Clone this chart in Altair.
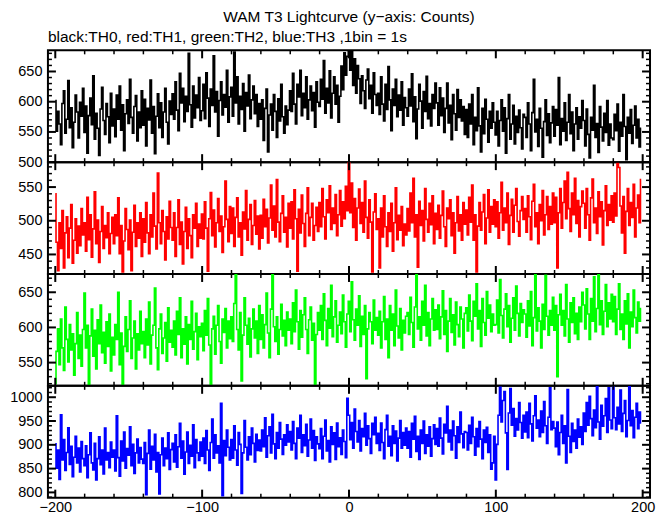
import altair as alt
import pandas as pd

# time bins (1 s)
time = list(range(-200, 200))

# TH0 (black) counts, one row per 20 s
th0_rows = [
    [602, 551, 584, 563, 529, 597, 618, 548, 571, 635, 557, 590, 524, 566, 611, 583, 540, 599, 576, 622],
    [549, 593, 515, 577, 606, 562, 643, 538, 581, 556, 511, 588, 624, 569, 546, 597, 575, 532, 614, 560],
    [588, 542, 611, 571, 626, 553, 595, 519, 580, 603, 564, 637, 574, 548, 592, 610, 535, 583, 557, 618],
    [561, 604, 527, 589, 570, 636, 548, 592, 514, 576, 613, 557, 598, 541, 583, 622, 566, 530, 601, 579],
    [613, 571, 633, 586, 552, 647, 598, 622, 567, 609, 584, 680, 595, 558, 626, 573, 611, 590, 640, 569],
    [585, 629, 572, 648, 606, 559, 621, 594, 676, 583, 617, 543, 602, 633, 578, 612, 591, 652, 566, 608],
    [624, 576, 682, 598, 641, 563, 609, 587, 630, 551, 615, 593, 644, 572, 603, 626, 580, 612, 559, 597],
    [571, 603, 536, 589, 621, 517, 578, 596, 553, 612, 584, 541, 605, 568, 629, 575, 548, 593, 562, 586],
    [618, 584, 647, 596, 563, 629, 608, 652, 577, 614, 590, 641, 571, 603, 626, 585, 615, 558, 633, 599],
    [592, 637, 604, 668, 581, 622, 598, 651, 573, 614, 641, 596, 627, 566, 609, 659, 620, 681, 644, 675],
    [685, 652, 683, 627, 671, 614, 660, 638, 597, 643, 618, 589, 636, 654, 605, 627, 581, 648, 612, 594],
    [614, 579, 641, 596, 568, 629, 587, 658, 603, 552, 621, 594, 637, 575, 611, 586, 633, 561, 607, 590],
    [576, 621, 593, 646, 567, 608, 539, 588, 629, 601, 556, 617, 584, 642, 572, 597, 560, 612, 589, 631],
    [598, 561, 623, 577, 606, 549, 589, 631, 565, 594, 537, 612, 580, 553, 620, 574, 603, 568, 592, 546],
    [587, 541, 596, 563, 612, 529, 574, 552, 623, 560, 517, 589, 547, 604, 571, 533, 584, 556, 598, 566],
    [545, 584, 527, 569, 603, 551, 590, 515, 572, 612, 538, 563, 594, 530, 576, 549, 586, 557, 522, 579],
    [574, 541, 598, 563, 519, 582, 637, 550, 571, 526, 589, 556, 508, 567, 603, 544, 580, 532, 565, 592],
    [543, 587, 561, 640, 529, 572, 551, 598, 536, 566, 612, 547, 583, 519, 563, 590, 538, 575, 556, 602],
    [569, 527, 588, 546, 507, 574, 553, 627, 541, 564, 516, 592, 558, 535, 581, 549, 602, 528, 563, 540],
    [537, 579, 552, 596, 518, 566, 543, 612, 559, 504, 574, 548, 587, 531, 561, 593, 540, 571, 525, 556],
]

# TH1 (red)
th1_rows = [
    [540, 468, 426, 497, 459, 515, 430, 482, 506, 445, 489, 524, 437, 471, 503, 452, 492, 463, 518, 479],
    [497, 455, 535, 472, 509, 446, 488, 543, 466, 501, 438, 484, 521, 459, 493, 475, 512, 451, 481, 505],
    [466, 509, 478, 534, 451, 493, 424, 470, 518, 487, 457, 501, 426, 483, 523, 462, 497, 474, 512, 447],
    [503, 468, 527, 482, 451, 509, 476, 541, 492, 458, 571, 497, 466, 515, 484, 442, 506, 473, 529, 490],
    [471, 512, 447, 490, 531, 465, 498, 436, 484, 520, 459, 503, 478, 445, 509, 489, 526, 462, 495, 474],
    [510, 473, 528, 489, 425, 503, 542, 478, 516, 461, 497, 533, 484, 507, 453, 491, 559, 502, 469, 521],
    [481, 519, 462, 505, 534, 476, 497, 449, 513, 488, 545, 471, 502, 524, 465, 493, 530, 480, 507, 458],
    [508, 474, 532, 491, 517, 467, 504, 553, 486, 522, 476, 561, 498, 469, 511, 537, 483, 505, 461, 526],
    [489, 528, 473, 546, 503, 425, 517, 482, 538, 496, 462, 511, 549, 478, 505, 526, 471, 493, 520, 484],
    [527, 491, 548, 506, 473, 531, 512, 552, 487, 519, 496, 539, 478, 509, 545, 492, 528, 503, 551, 515],
    [588, 512, 556, 490, 533, 471, 519, 547, 496, 527, 483, 559, 505, 474, 531, 498, 424, 513, 540, 487],
    [503, 430, 519, 476, 537, 491, 462, 512, 484, 526, 455, 497, 549, 472, 508, 486, 521, 463, 495, 479],
    [518, 485, 541, 497, 563, 476, 509, 431, 529, 493, 515, 470, 548, 502, 483, 526, 494, 537, 466, 511],
    [487, 523, 474, 508, 544, 491, 462, 519, 503, 531, 478, 512, 452, 497, 536, 485, 509, 471, 527, 495],
    [516, 479, 535, 498, 553, 471, 509, 424, 492, 527, 486, 513, 539, 466, 504, 546, 483, 521, 495, 531],
    [491, 528, 474, 512, 557, 486, 519, 497, 541, 465, 508, 532, 483, 523, 548, 499, 477, 515, 536, 502],
    [518, 483, 537, 506, 472, 529, 554, 491, 512, 466, 524, 500, 545, 479, 509, 536, 487, 521, 495, 541],
    [497, 535, 430, 512, 548, 489, 527, 559, 503, 572, 518, 484, 541, 509, 563, 496, 530, 476, 521, 544],
    [526, 489, 548, 509, 471, 534, 562, 497, 519, 481, 543, 506, 528, 464, 515, 552, 493, 524, 501, 537],
    [498, 541, 507, 585, 579, 522, 482, 536, 452, 514, 548, 493, 527, 505, 554, 476, 519, 538, 497, 561],
]

# TH2 (green)
th2_rows = [
    [520, 566, 598, 547, 612, 571, 539, 629, 583, 551, 604, 568, 591, 532, 577, 621, 556, 589, 545, 597],
    [649, 571, 603, 518, 588, 626, 559, 596, 541, 611, 577, 632, 564, 593, 549, 608, 573, 619, 538, 586],
    [561, 604, 583, 650, 547, 592, 518, 573, 615, 566, 597, 638, 556, 585, 609, 541, 591, 568, 623, 577],
    [594, 557, 612, 575, 636, 548, 589, 603, 656, 571, 540, 598, 619, 563, 585, 607, 552, 628, 579, 596],
    [572, 609, 561, 623, 590, 642, 557, 598, 576, 615, 548, 604, 583, 637, 569, 594, 620, 554, 601, 587],
    [606, 567, 624, 589, 641, 575, 518, 598, 616, 562, 603, 631, 580, 549, 612, 593, 627, 571, 609, 584],
    [615, 580, 634, 676, 597, 568, 621, 524, 589, 642, 603, 576, 613, 558, 598, 626, 585, 609, 563, 631],
    [583, 618, 571, 604, 649, 592, 557, 626, 676, 601, 580, 615, 562, 597, 633, 588, 610, 574, 622, 596],
    [612, 577, 635, 594, 653, 608, 569, 624, 586, 618, 642, 597, 563, 611, 629, 582, 606, 518, 590, 621],
    [596, 631, 583, 648, 610, 574, 627, 599, 660, 587, 615, 638, 579, 603, 622, 591, 646, 608, 572, 619],
    [637, 594, 665, 611, 582, 626, 603, 645, 573, 616, 590, 631, 527, 598, 621, 608, 577, 639, 596, 614],
    [589, 623, 571, 608, 644, 583, 612, 557, 631, 596, 619, 574, 653, 602, 585, 627, 568, 610, 592, 616],
    [621, 590, 643, 607, 572, 629, 676, 598, 615, 582, 637, 603, 660, 588, 621, 574, 612, 641, 596, 625],
    [597, 632, 584, 615, 652, 590, 624, 566, 609, 641, 593, 618, 575, 636, 604, 587, 629, 612, 571, 620],
    [628, 595, 646, 609, 581, 637, 616, 662, 598, 624, 573, 641, 607, 589, 651, 613, 632, 594, 619, 603],
    [604, 639, 592, 668, 617, 585, 626, 648, 601, 631, 579, 613, 642, 596, 659, 620, 588, 634, 607, 625],
    [619, 586, 638, 602, 651, 574, 614, 676, 595, 628, 609, 571, 633, 597, 674, 616, 589, 624, 603, 643],
    [596, 631, 530, 618, 647, 603, 624, 588, 661, 612, 579, 635, 607, 642, 591, 620, 583, 629, 608, 650],
    [632, 598, 655, 619, 583, 641, 609, 672, 594, 627, 676, 604, 638, 590, 623, 661, 601, 635, 612, 647],
    [608, 644, 590, 626, 662, 597, 619, 583, 638, 605, 648, 571, 622, 601, 653, 614, 592, 636, 609, 627],
]

# TH3 (blue)
th3_rows = [
    [902, 851, 889, 827, 963, 868, 911, 846, 884, 936, 859, 897, 833, 874, 918, 862, 893, 843, 907, 871],
    [856, 898, 831, 879, 925, 862, 847, 903, 826, 871, 917, 858, 889, 839, 935, 868, 884, 852, 906, 874],
    [889, 845, 961, 873, 834, 908, 866, 927, 851, 892, 878, 938, 856, 901, 840, 883, 912, 862, 894, 870],
    [861, 905, 795, 882, 931, 849, 897, 868, 922, 843, 884, 797, 879, 914, 856, 893, 871, 925, 848, 890],
    [903, 864, 921, 853, 896, 945, 872, 908, 838, 885, 927, 861, 899, 876, 942, 852, 911, 883, 867, 906],
    [876, 914, 861, 930, 889, 846, 905, 954, 872, 921, 883, 898, 862, 987, 793, 909, 877, 931, 895, 868],
    [911, 872, 940, 889, 857, 926, 901, 798, 883, 951, 895, 868, 917, 879, 935, 903, 864, 922, 888, 910],
    [887, 931, 896, 957, 874, 919, 938, 883, 964, 902, 871, 926, 893, 947, 912, 880, 921, 899, 942, 906],
    [928, 889, 949, 903, 871, 935, 914, 962, 884, 921, 898, 943, 876, 910, 954, 893, 930, 867, 917, 902],
    [892, 934, 871, 918, 952, 887, 909, 864, 938, 901, 925, 869, 946, 896, 915, 880, 931, 907, 873, 998],
    [962, 911, 947, 893, 975, 928, 906, 951, 887, 934, 917, 966, 899, 940, 913, 882, 945, 921, 958, 903],
    [924, 888, 946, 905, 871, 932, 962, 897, 918, 877, 940, 903, 929, 866, 914, 951, 893, 926, 899, 935],
    [893, 928, 874, 945, 912, 960, 886, 918, 869, 931, 903, 950, 882, 921, 897, 938, 876, 913, 942, 901],
    [934, 897, 956, 914, 881, 943, 925, 981, 906, 931, 889, 950, 919, 872, 938, 905, 969, 923, 894, 928],
    [926, 889, 941, 903, 958, 917, 878, 934, 896, 949, 912, 871, 931, 905, 937, 884, 921, 849, 862, 918],
    [826, 901, 962, 1021, 948, 993, 1012, 925, 848, 967, 1018, 941, 976, 918, 955, 931, 989, 947, 914, 962],
    [927, 969, 915, 987, 944, 908, 961, 1003, 935, 952, 917, 971, 926, 991, 940, 903, 958, 1020, 932, 949],
    [935, 896, 948, 879, 926, 962, 903, 940, 862, 1016, 918, 884, 945, 907, 931, 893, 954, 916, 938, 901],
    [967, 928, 989, 941, 1002, 955, 919, 973, 936, 1022, 948, 912, 983, 939, 961, 997, 926, 1020, 952, 934],
    [1021, 957, 932, 979, 944, 1015, 928, 966, 993, 917, 951, 1022, 940, 972, 915, 958, 987, 934, 969, 946],
]

for name, rows in [("th0", th0_rows), ("th1", th1_rows), ("th2", th2_rows), ("th3", th3_rows)]:
    for i, r in enumerate(rows):
        assert len(r) == 20, (name, i, len(r))

th0 = [v for r in th0_rows for v in r]
th1 = [v for r in th1_rows for v in r]
th2 = [v for r in th2_rows for v in r]
th3 = [v for r in th3_rows for v in r]

# axis ranges and tick values
x_domain = [-205, 205]
x_major = [-200, -100, 0, 100, 200]
x_minor = [-180, -160, -140, -120, -80, -60, -40, -20, 20, 40, 60, 80, 120, 140, 160, 180]

panels = [
    dict(vals=th0, color="#000000", domain=[500, 685], major=[500, 550, 600, 650]),
    dict(vals=th1, color="#ff0000", domain=[421, 587], major=[450, 500, 550]),
    dict(vals=th2, color="#00ff00", domain=[517, 676], major=[550, 600, 650]),
    dict(vals=th3, color="#0000ff", domain=[789, 1024], major=[800, 850, 900, 950, 1000]),
]

W, H = 603, 112
FONT = "Liberation Sans"
LABEL_SIZE = 14.5
TITLE_SIZE = 15.5


def make_panel(p, show_x):
    df = pd.DataFrame({"t": time, "c": p["vals"]})
    xs = alt.Scale(domain=x_domain, nice=False, zero=False)
    ys = alt.Scale(domain=p["domain"], nice=False, zero=False)
    lo, hi = p["domain"]
    minor = [v for v in range(lo - lo % 10 + 10, hi + 1, 10) if v not in p["major"]]
    if show_x:
        xaxis = alt.Axis(values=x_major, ticks=False, domain=False, grid=False, format="d",
                         labelPadding=3, title=None, labelFlush=False)
    else:
        xaxis = None
    yaxis = alt.Axis(values=p["major"], ticks=False, domain=False, grid=False, format="d",
                     labelPadding=6, title=None, labelFlush=False)
    line = alt.Chart(df).mark_line(color=p["color"], strokeWidth=1.6,
                                   interpolate="step", clip=True).encode(
        x=alt.X("t:Q", scale=xs, axis=xaxis),
        y=alt.Y("c:Q", scale=ys, axis=yaxis),
    )
    ymaj = pd.DataFrame({"v": p["major"]})
    ymin = pd.DataFrame({"v": minor})
    xmaj = pd.DataFrame({"v": x_major})
    xmin = pd.DataFrame({"v": x_minor})

    def yt(d, a, b, sw):
        return alt.Chart(d).mark_rule(color="black", strokeWidth=sw).encode(
            y=alt.Y("v:Q", scale=ys, axis=yaxis), x=alt.value(a), x2=alt.value(b))

    def xt(d, a, b, sw):
        return alt.Chart(d).mark_rule(color="black", strokeWidth=sw).encode(
            x=alt.X("v:Q", scale=xs, axis=xaxis), y=alt.value(a), y2=alt.value(b))

    layers = [
        line,
        yt(ymaj, 0, 8, 2), yt(ymaj, W - 8, W, 2),
        yt(ymin, 0, 4, 1.5), yt(ymin, W - 4, W, 1.5),
        xt(xmaj, 0, 8, 2), xt(xmaj, H - 8, H, 2),
        xt(xmin, 0, 4, 1.5), xt(xmin, H - 4, H, 1.5),
    ]
    return alt.layer(*layers).properties(width=W, height=H)


charts = [make_panel(p, i == 3) for i, p in enumerate(panels)]
charts[0] = charts[0].properties(
    title=alt.TitleParams("black:TH0, red:TH1, green:TH2, blue:TH3 ,1bin = 1s",
                          anchor="start", frame="group", offset=3.5, fontSize=TITLE_SIZE,
                          font=FONT, fontWeight="normal", color="black"))

chart = alt.vconcat(*charts, spacing=0, bounds="flush").properties(
    title=alt.TitleParams("WAM T3 Lightcurve (y\u2212axis: Counts)", anchor="middle",
                          frame="group", offset=3.5, fontSize=TITLE_SIZE, font=FONT,
                          fontWeight="normal", color="black"),
    padding={"left": 0, "top": 2, "right": 5, "bottom": 0},
    background="white",
).configure_view(stroke="black", strokeWidth=2).configure_axis(
    labelFont=FONT, labelFontSize=LABEL_SIZE, labelColor="black"
).configure_title(font=FONT, fontSize=TITLE_SIZE, fontWeight="normal", color="black")

chart.save("out.html", embed_options={"renderer": "svg", "actions": False})
